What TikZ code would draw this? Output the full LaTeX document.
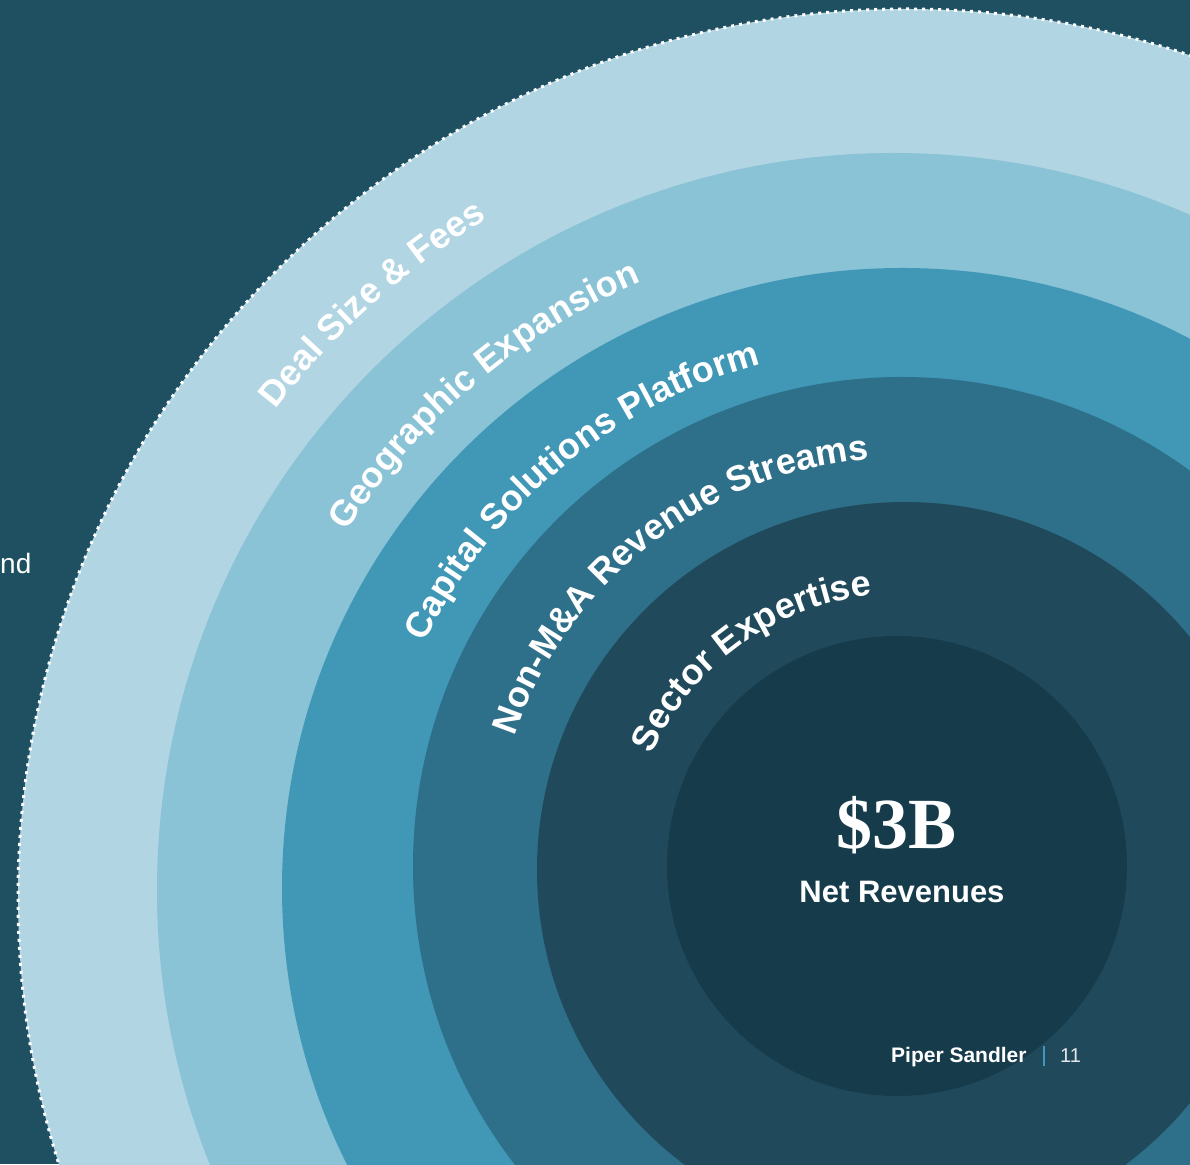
\documentclass[tikz,border=0pt]{standalone}
\usepackage{fontspec}
\setmainfont{Liberation Sans}
\newfontfamily\serifb{Liberation Serif}
\usetikzlibrary{decorations.text}
\definecolor{bg}{HTML}{1F5062}
\definecolor{cA}{HTML}{B1D5E3}
\definecolor{cB}{HTML}{8AC2D6}
\definecolor{cC}{HTML}{4097B6}
\definecolor{cD}{HTML}{2E7089}
\definecolor{cE}{HTML}{204A5B}
\definecolor{cF}{HTML}{163C4B}
\definecolor{numgray}{HTML}{E4E8EA}
\newcommand\arctxt{\color{white}\bfseries\fontsize{36}{36}\selectfont}
\begin{document}
\begin{tikzpicture}[x=1pt,y=1pt,
  ringtext/.style={decorate, decoration={text along path, text align=center, text={#1}}}]
\useasboundingbox (0,0) rectangle (1190,1164);
\clip (0,0) rectangle (1190,1164);
\fill[bg] (0,0) rectangle (1190,1164);
% rings
\fill[cA] (906,267) circle[radius=888pt];
\draw[white, line width=3pt, dash pattern=on 3pt off 5pt] (906,267) circle[radius=888pt];
\fill[cB] (894,274) circle[radius=737pt];
\fill[cC] (902,276) circle[radius=620pt];
\fill[cD] (902,298) circle[radius=489pt];
\fill[cE] (905,294) circle[radius=368pt];
\fill[cF] (897,298) circle[radius=230pt];
% curved labels
\path[ringtext={|\arctxt|Deal Size {\&} Fees}] (906,267) ++(172:797pt) arc[start angle=172, end angle=92, radius=797pt];
\path[ringtext={|\arctxt|Geographic Expansion}] (902,276) ++(170.3:660pt) arc[start angle=170.3, end angle=90.3, radius=660pt];
\path[ringtext={|\arctxt|Capital Solutions Platform}] (902,287) ++(169.6:532pt) arc[start angle=169.6, end angle=89.6, radius=532pt];
\path[ringtext={|\arctxt|Non-M{\&}A Revenue Streams}] (903,296) ++(168:410pt) arc[start angle=168, end angle=88, radius=410pt];
\path[ringtext={|\arctxt|Sector Expertise}] (900,298) ++(165.8:272pt) arc[start angle=165.8, end angle=85.8, radius=272pt];
% centre
\node[anchor=base, text=white, font=\serifb\bfseries\fontsize{72}{72}\selectfont, inner sep=0pt] (big) at (896,315) {\$3B};
\node[anchor=base, text=white, font=\bfseries\fontsize{31}{31}\selectfont, inner sep=0pt] (net) at (902,261) {Net Revenues};
% footer
\node[anchor=base west, text=white, font=\bfseries\fontsize{21}{21}\selectfont, inner sep=0pt] (brand) at (891,102) {Piper Sandler};
\coordinate (bartop) at (1044,118);
\coordinate (barbot) at (1044,98);
\draw[cC, line width=2.4pt] (bartop) -- (barbot);
\node[anchor=base west, text=numgray, font=\fontsize{20}{20}\selectfont, inner sep=0pt] (page) at (1060,102) {11};
% left fragment
\node[anchor=base west, text=white, font=\fontsize{28}{28}\selectfont, inner sep=0pt] (frag) at (0,590) {nd};
\end{tikzpicture}
\end{document}
